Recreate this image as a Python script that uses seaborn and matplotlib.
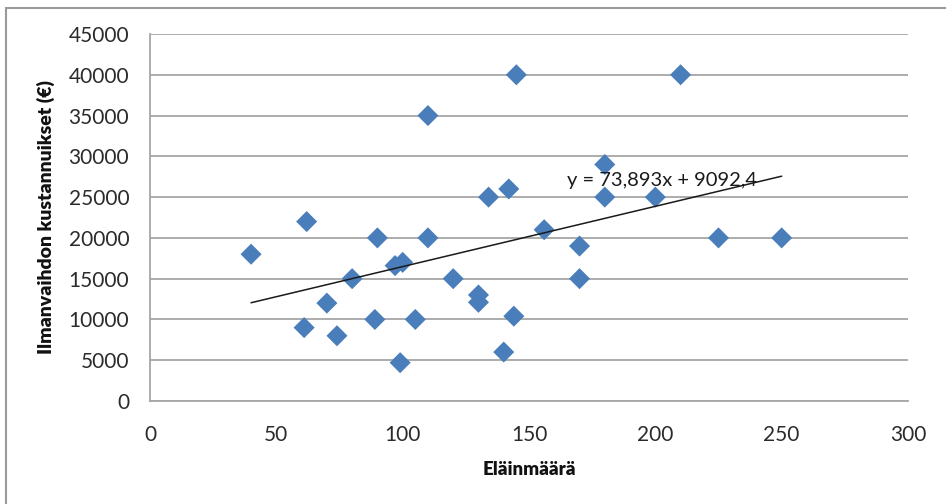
import matplotlib
matplotlib.use("Agg")
import matplotlib.pyplot as plt
import matplotlib.patches as mpatches
import numpy as np
import pandas as pd
import seaborn as sns

# Animal count per farm and ventilation cost (€)
elainmaara = [40, 62, 61, 70, 74, 80, 90, 89, 97, 100, 99, 105, 110, 110,
              120, 130, 130, 134, 142, 145, 140, 144, 156, 170, 170, 180,
              180, 200, 210, 225, 250]
kustannukset = [18000, 22000, 9000, 12000, 8000, 15000, 20000, 10000, 16600,
                17000, 4700, 10000, 35000, 20000, 15000, 13000, 12100, 25000,
                26000, 40000, 6000, 10400, 21000, 19000, 15000, 29000, 25000,
                25000, 40000, 20000, 20000]

# Linear trendline coefficients (as shown in the equation label)
slope = 73.893
intercept = 9092.4

x_ticks = [0, 50, 100, 150, 200, 250, 300]
y_ticks = [0, 5000, 10000, 15000, 20000, 25000, 30000, 35000, 40000, 45000]

df = pd.DataFrame({"Eläinmäärä": elainmaara, "Kustannukset": kustannukset})

sns.set_style("white")
plt.rcParams["font.family"] = ["Lato", "DejaVu Sans"]

fig = plt.figure(figsize=(9.46, 5.04), dpi=100)
ax = fig.add_axes([150 / 946, 1 - 401 / 504, (908 - 150) / 946, (401 - 34) / 504])

grid_col = "#a6a6a6"
ax.set_axisbelow(True)
ax.yaxis.grid(True, color=grid_col, linewidth=1.3)
ax.xaxis.grid(False)

sns.scatterplot(data=df, x="Eläinmäärä", y="Kustannukset", marker="D",
                s=115, color="#4a7ebb", edgecolor="none", ax=ax, zorder=3)

trend_x = np.array([min(elainmaara), max(elainmaara)])
trend_y = slope * trend_x + intercept
sns.lineplot(x=trend_x, y=trend_y, color="#1a1a1a", linewidth=1.1, ax=ax,
             zorder=4)

ax.text(165, 27000, "y = 73,893x + 9092,4", fontsize=14.5, color="#1a1a1a",
        va="center", ha="left", zorder=5)

ax.set_xlim(0, 300)
ax.set_ylim(0, 45000)
ax.set_xticks(x_ticks)
ax.set_yticks(y_ticks)
ax.set_xticklabels([str(v) for v in x_ticks])
ax.set_yticklabels([str(v) for v in y_ticks])

for side in ("top", "right"):
    ax.spines[side].set_visible(False)
for side in ("left", "bottom"):
    ax.spines[side].set_color(grid_col)
    ax.spines[side].set_linewidth(1.3)

ax.tick_params(axis="both", which="major", direction="out", length=6,
               width=1.3, color=grid_col, labelsize=15, labelcolor="#2b2b2b")
ax.tick_params(axis="x", pad=11)
ax.tick_params(axis="y", pad=9)

ax.set_xlabel("Eläinmäärä", fontsize=13.5, fontweight="heavy", color="#111111",
              labelpad=12)
ax.set_ylabel("Ilmanvaihdon kustannuikset (€)", fontsize=14,
              fontweight="heavy", color="#111111", labelpad=10)

# Chart frame
frame = mpatches.Rectangle((6 / 946, -0.1), 1.1, 1 - 8 / 504 + 0.1,
                           transform=fig.transFigure, fill=False,
                           edgecolor="#9a9a9a", linewidth=1.5, zorder=0)
fig.patches.append(frame)

fig.savefig("out.png", dpi=100)
